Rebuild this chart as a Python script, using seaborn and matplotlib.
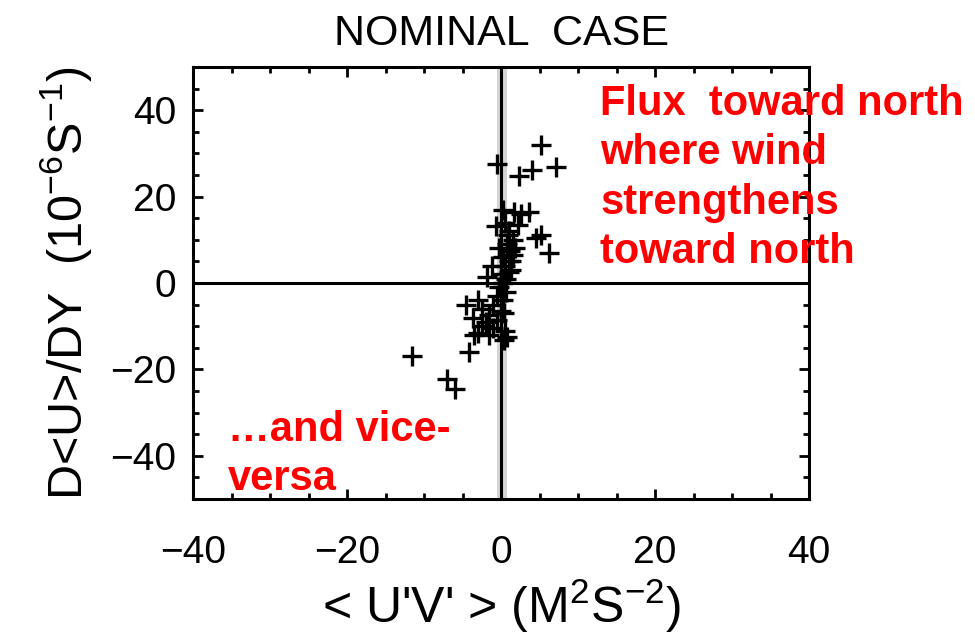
import matplotlib
matplotlib.use("Agg")
import matplotlib.pyplot as plt
from matplotlib.ticker import MultipleLocator
import seaborn as sns
import numpy as np

# ============== DATA ==============
# <U'V'> (m2 s-2) against d<U>/dy (1e-6 s-1)
uv_flux = [5.2, -0.5, 2.3, 4.0, 7.2, 1.7, 2.6, 3.6, 0.3, 5.2, 6.2, -0.6, 4.5,
           1.3, -1.2, 0.5, 1.0, 1.5, 0.8, 1.2, 0.2, 1.0, 0.5, 1.3, 0.0, 0.7,
           0.3, -0.3, 0.6, -0.5, 0.2, -1.0, 0.0, -1.5, -0.5, -2.0, -2.5, -1.0,
           0.5, -3.0, 0.8, -1.5, 0.4, -4.5, -3.6, -3.5, -4.2, -11.5, -7.0,
           -6.0, -2.5, -3.0, 1.8, 2.2, -1.8, 0.9, 1.6, -0.2, 0.4, 1.1]
dudy = [32.0, 27.6, 24.8, 26.2, 26.8, 16.5, 16.0, 16.5, 17.0, 11.2, 7.0, 13.1,
        10.5, 5.0, 4.0, 14.0, 12.0, 10.0, 9.0, 7.5, 6.0, 5.0, 4.0, 3.0, 2.0,
        1.0, 0.0, -1.0, -2.0, -3.0, -4.0, -5.0, -6.5, -7.5, -8.5, -9.0, -10.0,
        -10.5, -11.0, -11.5, -12.5, -12.0, -13.3, -5.0, -8.0, -12.0, -16.0,
        -17.0, -22.3, -24.5, -6.0, -4.0, 8.0, 13.5, 1.5, 11.0, 6.5, 8.0,
        -7.0, 2.5]

x_ticks = [-40, -20, 0, 20, 40]
y_ticks = [-40, -20, 0, 20, 40]

# ============== PLOT ==============
sns.set_style("white")
plt.rcParams['font.family'] = ['Liberation Sans', 'DejaVu Sans']
plt.rcParams['mathtext.default'] = 'regular'
plt.rcParams['text.color'] = 'black'
plt.rcParams['axes.labelcolor'] = 'black'
plt.rcParams['xtick.color'] = 'black'
plt.rcParams['ytick.color'] = 'black'

fig = plt.figure(figsize=(9.75, 6.44), dpi=100)
ax = fig.add_axes([193 / 975, 1 - 499 / 644, 616 / 975, 432 / 644])

ax.axvspan(-0.5, 0.8, color='#d4d4d4', zorder=0, lw=0)
ax.axhline(0, color='black', lw=2.2, zorder=1)
ax.axvline(0, color='black', lw=2.2, zorder=1)

sns.scatterplot(x=uv_flux, y=dudy, marker='+', s=190, color='black',
                linewidth=2.4, ax=ax, zorder=3)

ax.set_xlim(-40, 40)
ax.set_ylim(-50, 50)
ax.set_xticks(x_ticks)
ax.set_yticks(y_ticks)
ax.xaxis.set_minor_locator(MultipleLocator(5))
ax.yaxis.set_minor_locator(MultipleLocator(5))
ax.tick_params(which='both', direction='in', top=True, right=True,
               bottom=True, left=True, color='black')
ax.tick_params(which='major', length=7, width=2, labelsize=28)
ax.tick_params(which='minor', length=4, width=2)
ax.tick_params(axis='x', which='major', pad=26)
ax.tick_params(axis='y', which='major', pad=12)
for sp in ax.spines.values():
    sp.set_color('black')
    sp.set_linewidth(2.2)

ax.set_title('NOMINAL  CASE', fontsize=31, pad=16)
ax.set_xlabel("< U'V' > (M$^2$S$^{-2}$)", fontsize=36, labelpad=4)
ax.set_ylabel("D<U>/DY  (10$^{-6}$S$^{-1}$)", fontsize=35, labelpad=12)

# red annotations on top of the frame
fig.text(600 / 975, 1 - 84 / 644,
         "Flux  toward north\nwhere wind\nstrengthens\ntoward north",
         color='red', fontsize=30, fontweight='bold', ha='left',
         va='top', linespacing=1.3, zorder=10)
fig.text(228 / 975, 1 - 410 / 644, "\u2026and vice-\nversa",
         color='red', fontsize=30, fontweight='bold', ha='left',
         va='top', linespacing=1.3, zorder=10)

plt.savefig("out.png", dpi=100)
plt.close()
